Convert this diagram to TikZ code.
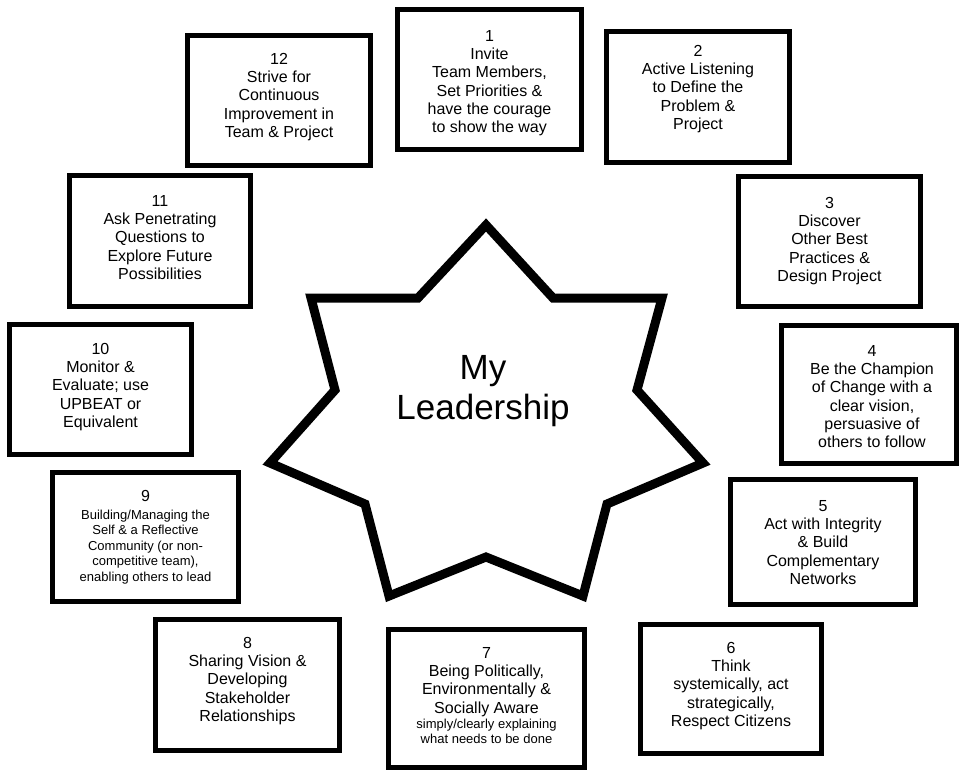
\documentclass[tikz,border=0pt]{standalone}
\usepackage{fontspec}
\setmainfont{Liberation Sans}
\begin{document}
\begin{tikzpicture}[x=1pt,y=-1pt,
  card/.style={draw=black, line width=5pt, rectangle, inner sep=0pt, fill=white},
  cardtext/.style={anchor=north, align=center, inner sep=0pt,
    font=\fontsize{16}{18.3}\selectfont},
  smalltext/.style={anchor=north, align=center, inner sep=0pt,
    font=\fontsize{13}{15.5}\selectfont},
  starline/.style={draw=black, line width=9pt, line join=miter, fill=white},
  startitle/.style={anchor=north, align=center, inner sep=0pt,
    font=\fontsize{35}{40.5}\selectfont}]
\useasboundingbox (0,0) rectangle (960,771);

% central seven-pointed star
\draw[starline]
  (486,225) -- (553,298) -- (662,298) -- (637,390) -- (703,463)
  -- (607,504) -- (583,596) -- (486,557) -- (389,596) -- (365,504)
  -- (270,463) -- (335,390) -- (311,298) -- (418,298) -- cycle;
\node[startitle] (core) at (483,355) {My\\Leadership};

% the twelve practice cards
\node[card, minimum width=184pt, minimum height=140pt] (b1) at (489.5,79.5) {};
\node[cardtext] (t1) at (489.5,30) {1\\Invite\\Team Members,\\Set Priorities \&\\have the courage\\to show the way};

\node[card, minimum width=183pt, minimum height=131pt] (b2) at (698,97) {};
\node[cardtext] (t2) at (698,45) {2\\Active Listening\\to Define the\\Problem \&\\Project};

\node[card, minimum width=182pt, minimum height=130pt] (b3) at (829.5,241.5) {};
\node[cardtext] (t3) at (829.5,197) {3\\Discover\\Other Best\\Practices \&\\Design Project};

\node[card, minimum width=175pt, minimum height=138pt] (b4) at (869,394.5) {};
\node[cardtext] (t4) at (872,345) {4\\Be the Champion\\of Change with a\\clear vision,\\persuasive of\\others to follow};

\node[card, minimum width=185pt, minimum height=125pt] (b5) at (823,542) {};
\node[cardtext] (t5) at (823,500) {5\\Act with Integrity\\\& Build\\Complementary\\Networks};

\node[card, minimum width=181pt, minimum height=129pt] (b6) at (731,689) {};
\node[cardtext] (t6) at (731,642) {6\\Think\\systemically, act\\strategically,\\Respect Citizens};

\node[card, minimum width=196pt, minimum height=138pt] (b7) at (486.5,698.5) {};
\node[cardtext] (t7) at (486.5,647) {7\\Being Politically,\\Environmentally \&\\Socially Aware\\[-2.6pt]
  \fontsize{13}{15.5}\selectfont simply/clearly explaining\\[-3.3pt]
  \fontsize{13}{15.5}\selectfont what needs to be done};

\node[card, minimum width=184pt, minimum height=131pt] (b8) at (247.5,685) {};
\node[cardtext] (t8) at (247.5,637) {8\\Sharing Vision \&\\Developing\\Stakeholder\\Relationships};

\node[card, minimum width=186pt, minimum height=129pt] (b9) at (145.5,537) {};
\node[smalltext] (t9) at (145.5,490) {\fontsize{16}{18.3}\selectfont 9\\[2.2pt]Building/Managing the\\Self \& a Reflective\\Community (or non-\\competitive team),\\enabling others to lead};

\node[card, minimum width=182pt, minimum height=130pt] (b10) at (100.5,389.5) {};
\node[cardtext] (t10) at (100.5,343) {10\\Monitor \&\\Evaluate; use\\UPBEAT or\\Equivalent};

\node[card, minimum width=181pt, minimum height=131pt] (b11) at (160,241) {};
\node[cardtext] (t11) at (160,195) {11\\Ask Penetrating\\Questions to\\Explore Future\\Possibilities};

\node[card, minimum width=183pt, minimum height=130pt] (b12) at (279,100.5) {};
\node[cardtext] (t12) at (279,53) {12\\Strive for\\Continuous\\Improvement in\\Team \& Project};
\end{tikzpicture}
\end{document}
